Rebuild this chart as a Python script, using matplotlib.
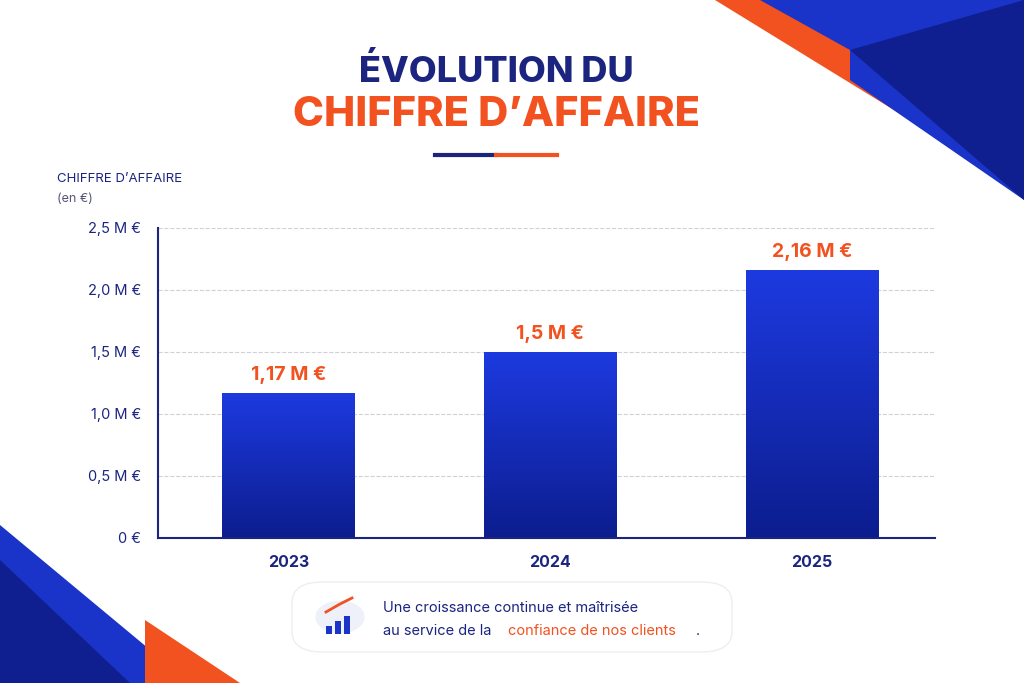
import numpy as np
import matplotlib.pyplot as plt
from matplotlib.patches import Polygon, FancyBboxPatch, Rectangle

years = ['2023', '2024', '2025']
values = [1.17, 1.5, 2.16]
value_labels = ['1,17 M €', '1,5 M €', '2,16 M €']
ticks = [0, 0.5, 1.0, 1.5, 2.0, 2.5]
tick_labels = ['0 €', '0,5 M €', '1,0 M €', '1,5 M €', '2,0 M €', '2,5 M €']

navy = '#1b2580'
orange = '#f2521f'
plt.rcParams['font.family'] = ['Inter', 'DejaVu Sans']

fig = plt.figure(figsize=(10.24, 6.83), dpi=100)
fig.patch.set_facecolor('white')

# corner decorations (figure fraction coords)
def poly(pts, c, z=0):
    fig.patches.append(Polygon([(x / 1024, 1 - y / 683) for x, y in pts], closed=True,
                               transform=fig.transFigure, facecolor=c, edgecolor='none', zorder=z))
poly([(715, 0), (1024, 0), (1024, 190)], orange)
poly([(760, 0), (1024, 0), (1024, 200), (850, 80), (850, 50)], '#1a33c9')
poly([(850, 50), (1024, 0), (1024, 200)], '#0f1f8f')
poly([(0, 525), (0, 683), (190, 683)], '#1a33c9')
poly([(0, 560), (0, 683), (130, 683)], '#0f1f8f')
poly([(145, 620), (240, 683), (145, 683)], orange)

# titles
fig.text(0.485, 0.895, 'ÉVOLUTION DU', ha='center', va='center', fontsize=26,
         fontweight='heavy', color=navy)
fig.text(0.485, 0.832, 'CHIFFRE D\u2019AFFAIRE', ha='center', va='center', fontsize=30,
         fontweight='heavy', color=orange)
fig.lines.append(plt.Line2D([435 / 1024, 496 / 1024], [1 - 155 / 683] * 2, color=navy, lw=3,
                            transform=fig.transFigure))
fig.lines.append(plt.Line2D([496 / 1024, 557 / 1024], [1 - 155 / 683] * 2, color=orange, lw=3,
                            transform=fig.transFigure))
fig.text(57 / 1024, 1 - 179 / 683, 'CHIFFRE D\u2019AFFAIRE', fontsize=9.5, color=navy, va='center')
fig.text(57 / 1024, 1 - 199 / 683, '(en €)', fontsize=9, color='#555577', va='center')

ax = fig.add_axes([0.154, 0.2123, 0.759, 0.454])
ax.set_facecolor('none')
ax.set_xlim(-0.5, 2.47)
ax.set_ylim(0, 2.5)
ax.set_yticks(ticks)
ax.set_yticklabels(tick_labels, color=navy, fontsize=10.5)
ax.set_xticks(range(len(years)))
ax.set_xticklabels(years, color=navy, fontsize=11.5, fontweight='bold')
ax.tick_params(length=0, pad=12)
for s in ['top', 'right']:
    ax.spines[s].set_visible(False)
ax.spines['left'].set_color(navy)
ax.spines['bottom'].set_color(navy)
ax.spines['left'].set_linewidth(1.5)
ax.spines['bottom'].set_linewidth(1.5)
ax.yaxis.grid(True, ls='--', color='#d0d0d8', lw=0.8)
ax.set_axisbelow(True)

grad = np.linspace(0, 1, 256).reshape(-1, 1)
from matplotlib.colors import LinearSegmentedColormap
cmap = LinearSegmentedColormap.from_list('b', ['#0c1d8e', '#1d3ae0'])
w = 0.505
for i, v in enumerate(values):
    rect = Rectangle((i - w / 2, 0), w, v, facecolor='none', edgecolor='none')
    ax.add_patch(rect)
    im = ax.imshow(grad, extent=(i - w / 2, i + w / 2, 0, v), cmap=cmap, aspect='auto',
                   origin='lower', zorder=2)
    im.set_clip_path(rect)
    ax.text(i, v + 0.07, value_labels[i], ha='center', va='bottom', color=orange,
            fontsize=14, fontweight='bold')
ax.set_xlim(-0.5, 2.47)
ax.set_ylim(0, 2.5)

# bottom callout
box = FancyBboxPatch((292 / 1024, 1 - 652 / 683), 440 / 1024, 70 / 683,
                     boxstyle='round,pad=0,rounding_size=0.03', transform=fig.transFigure,
                     facecolor='white', edgecolor='#eeeeee', lw=1)
fig.patches.append(box)
fig.patches.append(plt.Circle((340 / 1024, 1 - 617 / 683), 0.024, transform=fig.transFigure,
                              facecolor='#eef0fa', edgecolor='none'))
for k, h in enumerate([8, 13, 18]):
    fig.patches.append(Rectangle(((326 + k * 9) / 1024, 1 - 634 / 683), 6 / 1024, h / 683,
                                 transform=fig.transFigure, facecolor='#1a33c9'))
fig.lines.append(plt.Line2D([326 / 1024, 340 / 1024, 352 / 1024],
                            [1 - 612 / 683, 1 - 604 / 683, 1 - 598 / 683],
                            color=orange, lw=2, transform=fig.transFigure))
fig.text(383 / 1024, 1 - 608 / 683, 'Une croissance continue et maîtrisée', fontsize=10.5,
         color=navy, va='center')
t = fig.text(383 / 1024, 1 - 631 / 683, 'au service de la ', fontsize=10.5, color=navy, va='center')
fig.text(508 / 1024, 1 - 631 / 683, 'confiance de nos clients', fontsize=10.5, color=orange,
         va='center')
fig.text(696 / 1024, 1 - 631 / 683, '.', fontsize=10.5, color=navy, va='center')

fig.savefig('out.png', dpi=100)
